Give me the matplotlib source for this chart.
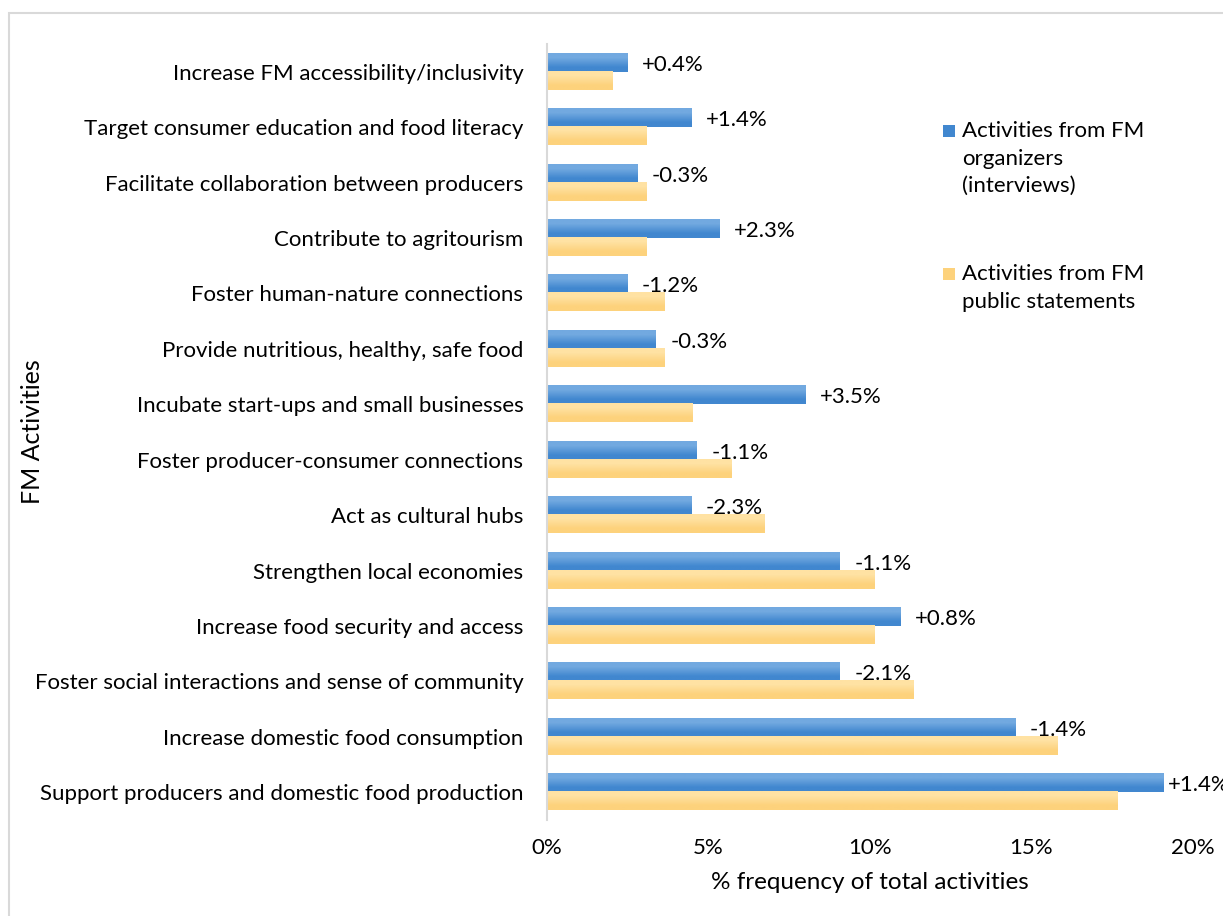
import numpy as np
import matplotlib
matplotlib.use("Agg")
import matplotlib.pyplot as plt
from matplotlib.patches import Rectangle

plt.rcParams['font.family'] = ['Lato', 'DejaVu Sans']

# activities, listed top to bottom
activities = [
    "Increase FM accessibility/inclusivity",
    "Target consumer education and food literacy",
    "Facilitate collaboration between producers",
    "Contribute to agritourism",
    "Foster human-nature connections",
    "Provide nutritious, healthy, safe food",
    "Incubate start-ups and small businesses",
    "Foster producer-consumer connections",
    "Act as cultural hubs",
    "Strengthen local economies",
    "Increase food security and access",
    "Foster social interactions and sense of community",
    "Increase domestic food consumption",
    "Support producers and domestic food production",
]
# % frequency of total activities
interviews = [2.48, 4.46, 2.79, 5.33, 2.48, 3.37, 7.99, 4.64, 4.46, 9.07, 10.93, 9.07, 14.49, 19.10]
statements = [2.03, 3.07, 3.07, 3.07, 3.65, 3.65, 4.49, 5.70, 6.72, 10.15, 10.15, 11.36, 15.82, 17.65]
diff_labels = ["+0.4%", "+1.4%", "-0.3%", "+2.3%", "-1.2%", "-0.3%", "+3.5%",
               "-1.1%", "-2.3%", "-1.1%", "+0.8%", "-2.1%", "-1.4%", "+1.4%"]
xticks = [0, 5, 10, 15, 20]

legend_names = ["Activities from FM\norganizers\n(interviews)",
                "Activities from FM\npublic statements"]

blue_top, blue_bot = "#72a9e0", "#4187cf"
yel_top, yel_bot = "#ffe2a3", "#fdd27c"

FS = 16


def gradient_bars(ax, bars, c_top, c_bot):
    # paint each bar with a vertical gradient (light on top)
    top = np.array(matplotlib.colors.to_rgb(c_top))
    bot = np.array(matplotlib.colors.to_rgb(c_bot))
    grad = np.array([[top], [bot]])
    for b in bars:
        x0, y0 = b.get_x(), b.get_y()
        w, h = b.get_width(), b.get_height()
        ax.imshow(grad, extent=(x0, x0 + w, y0, y0 + h), origin='upper',
                  aspect='auto', interpolation='bilinear', zorder=2)


fig = plt.figure(figsize=(12.23, 9.16), dpi=100)
ax = fig.add_axes([547 / 1223, 1 - 820 / 916, 646 / 1223, 776 / 916])

n = len(activities)
y = np.arange(n)[::-1]
h = 0.325

b1 = ax.barh(y + h / 2, interviews, height=h, color=blue_bot, zorder=1)
b2 = ax.barh(y - h / 2, statements, height=h, color=yel_bot, zorder=1)
gradient_bars(ax, b1, blue_top, blue_bot)
gradient_bars(ax, b2, yel_top, yel_bot)

for yi, v, lab in zip(y, interviews, diff_labels):
    pad = 4 if v > 18 else 15
    ax.annotate(lab, (v, yi + h / 2), xytext=(pad, -2), textcoords='offset pixels',
                ha='left', va='center', fontsize=FS, color='black', zorder=5,
                annotation_clip=False)

ax.set_xlim(0, 20)
ax.set_ylim(-0.5, n - 0.5)
ax.set_xticks(xticks)
ax.set_xticklabels([f"{t}%" for t in xticks])
ax.set_yticks(y)
ax.set_yticklabels(activities)
ax.tick_params(axis='both', length=0, labelsize=FS, colors='black')
ax.tick_params(axis='x', pad=13)
ax.tick_params(axis='y', pad=17)

for s in ['top', 'right', 'bottom']:
    ax.spines[s].set_visible(False)
ax.spines['left'].set_color('#d9d9d9')
ax.spines['left'].set_linewidth(1.5)

ax.set_xlabel("% frequency of total activities", fontsize=17.5, labelpad=10)
fig.text(33 / 1223, 1 - 432 / 916, "FM Activities", rotation=90,
         ha='center', va='center', fontsize=18)

# legend drawn by hand: square aligned with the first text line
leg_items = [(blue_bot, legend_names[0], 131), (yel_bot, legend_names[1], 274)]
for col, name, ypx in leg_items:
    fig.patches.append(Rectangle((943 / 1223, 1 - (ypx + 6) / 916), 12 / 1223, 12 / 916,
                                 transform=fig.transFigure, facecolor=col,
                                 edgecolor='none'))
    fig.text(962 / 1223, 1 - (ypx - 10) / 916, name, ha='left', va='top',
             fontsize=FS, linespacing=1.47)

# light chart frame
fig.patches.append(Rectangle((9 / 1223, -0.1), 1.2, 1.1 - 13 / 916,
                             transform=fig.transFigure, facecolor='none',
                             edgecolor='#d9d9d9', linewidth=1.5))

fig.savefig("out.png", dpi=100)
